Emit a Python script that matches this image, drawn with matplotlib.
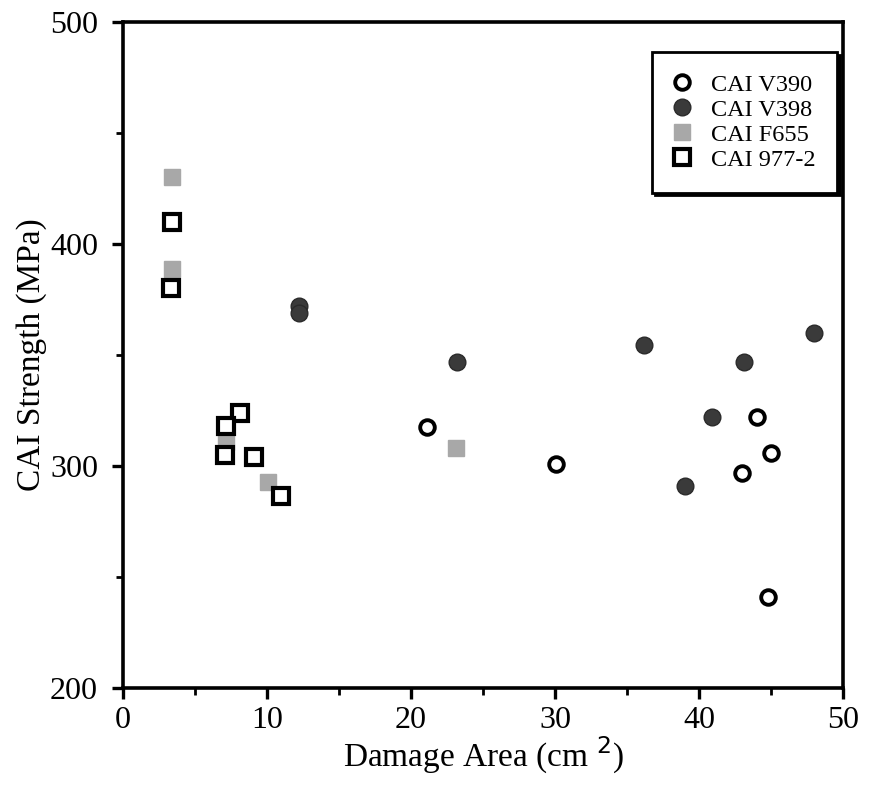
import numpy as np
import matplotlib
matplotlib.use("Agg")
from matplotlib import pyplot as plt
from matplotlib.ticker import MultipleLocator

plt.rcParams['font.family'] = ['Liberation Serif', 'DejaVu Serif']

# CAI V390 (open circles)
v390_x = [21.1, 30.1, 44.0, 45.0, 43.0, 44.8]
v390_y = [317.6, 301, 322, 306, 297, 241]
# CAI V398 (dark dotted)
v398_x = [12.2, 12.2, 23.2, 36.2, 43.1, 48.0, 40.9, 39.0]
v398_y = [372, 369, 347, 354.5, 347, 360, 322, 291]
# CAI F655 (light dotted)
f655_x = [3.4, 3.4, 7.15, 10.1, 23.1]
f655_y = [430, 388.7, 311, 293, 308]
# CAI 977-2 (open squares)
s977_x = [3.4, 3.3, 8.1, 7.15, 7.1, 9.1, 11.0]
s977_y = [410, 380, 324, 318, 305, 304, 286.5]

fig = plt.figure(figsize=(8.7, 7.85), dpi=100)
ax = fig.add_axes([0.1414, 0.1236, 0.8276, 0.8484])

ax.plot(v390_x, v390_y, 'o', ms=10.5, mfc='white', mec='black', mew=2.8,
        ls='none', label='CAI V390')
ax.plot(v398_x, v398_y, 'o', ms=12, mfc='#3a3a3a', mec='#2a2a2a', mew=1,
        ls='none', label='CAI V398')
ax.plot(f655_x, f655_y, 's', ms=11, mfc='#a8a8a8', mec='#a8a8a8', mew=1,
        ls='none', label='CAI F655')
ax.plot(s977_x, s977_y, 's', ms=12, mfc='white', mec='black', mew=3,
        ls='none', label='CAI 977-2')

ax.set_xlim(0, 50)
ax.set_ylim(200, 500)
ax.xaxis.set_major_locator(MultipleLocator(10))
ax.xaxis.set_minor_locator(MultipleLocator(5))
ax.yaxis.set_major_locator(MultipleLocator(100))
ax.yaxis.set_minor_locator(MultipleLocator(50))
ax.tick_params(which='major', direction='out', length=8, width=2.4,
               labelsize=23, pad=10)
ax.tick_params(axis='x', which='major', pad=5)
ax.tick_params(which='minor', direction='out', length=5, width=2)
for s in ax.spines.values():
    s.set_linewidth(2.6)

ax.set_xlabel('Damage Area (cm $^{2}$)', fontsize=24, labelpad=0)
ax.set_ylabel('CAI Strength (MPa)', fontsize=24, labelpad=2)

leg = ax.legend(loc='upper right', bbox_to_anchor=(0.992, 0.955), fontsize=17.5,
                frameon=True, fancybox=False, edgecolor='black',
                shadow={'color': 'black', 'alpha': 1},
                handletextpad=0.9, borderpad=0.9, labelspacing=0.12,
                handlelength=0.6, borderaxespad=0.0)
leg.get_frame().set_linewidth(2)

fig.savefig('out.png', dpi=100)
